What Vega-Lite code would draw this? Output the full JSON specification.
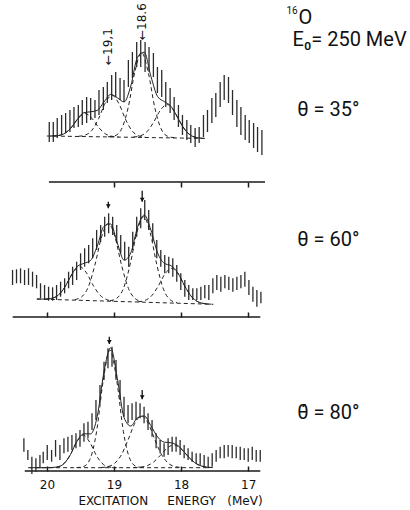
{
"$schema": "https://vega.github.io/schema/vega-lite/v6.json",
"background": "white",
"padding": {"left": 10, "top": 0, "right": 0, "bottom": 0},
"config": {"view": {"stroke": null}, "axis": {"grid": false, "domain": false}},
"spacing": 0,
"bounds": "flush",
"datasets": {"d": [
{"p":1,"k":"bar","E":19.965,"v":40,"v2":60},{"p":1,"k":"bar","E":19.905,"v":40,"v2":60},{"p":1,"k":"bar","E":19.846,"v":44,"v2":64},{"p":1,"k":"bar","E":19.781,"v":47,"v2":67},{"p":1,"k":"bar","E":19.721,"v":49,"v2":69},{"p":1,"k":"bar","E":19.657,"v":50,"v2":72},{"p":1,"k":"bar","E":19.597,"v":54,"v2":75},{"p":1,"k":"bar","E":19.532,"v":55,"v2":77},{"p":1,"k":"bar","E":19.473,"v":57,"v2":82},{"p":1,"k":"bar","E":19.408,"v":59,"v2":85},{"p":1,"k":"bar","E":19.348,"v":62,"v2":84},{"p":1,"k":"bar","E":19.284,"v":64,"v2":82},{"p":1,"k":"bar","E":19.224,"v":67,"v2":92},{"p":1,"k":"bar","E":19.159,"v":72,"v2":95},{"p":1,"k":"bar","E":19.100,"v":79,"v2":100},{"p":1,"k":"bar","E":19.035,"v":82,"v2":107},{"p":1,"k":"bar","E":18.975,"v":85,"v2":110},{"p":1,"k":"bar","E":18.910,"v":82,"v2":104},{"p":1,"k":"bar","E":18.851,"v":80,"v2":102},{"p":1,"k":"bar","E":18.786,"v":95,"v2":122},{"p":1,"k":"bar","E":18.726,"v":104,"v2":130},{"p":1,"k":"bar","E":18.662,"v":115,"v2":140},{"p":1,"k":"bar","E":18.602,"v":115,"v2":142},{"p":1,"k":"bar","E":18.537,"v":110,"v2":140},{"p":1,"k":"bar","E":18.478,"v":110,"v2":135},{"p":1,"k":"bar","E":18.413,"v":105,"v2":129},{"p":1,"k":"bar","E":18.353,"v":89,"v2":115},{"p":1,"k":"bar","E":18.289,"v":85,"v2":112},{"p":1,"k":"bar","E":18.229,"v":75,"v2":100},{"p":1,"k":"bar","E":18.164,"v":69,"v2":94},{"p":1,"k":"bar","E":18.104,"v":62,"v2":85},{"p":1,"k":"bar","E":18.040,"v":55,"v2":77},{"p":1,"k":"bar","E":17.980,"v":47,"v2":67},{"p":1,"k":"bar","E":17.915,"v":42,"v2":62},{"p":1,"k":"bar","E":17.856,"v":39,"v2":57},{"p":1,"k":"bar","E":17.791,"v":35,"v2":54},{"p":1,"k":"bar","E":17.731,"v":39,"v2":55},{"p":1,"k":"bar","E":17.667,"v":45,"v2":67},{"p":1,"k":"bar","E":17.607,"v":50,"v2":72},{"p":1,"k":"bar","E":17.542,"v":59,"v2":84},{"p":1,"k":"bar","E":17.483,"v":65,"v2":89},{"p":1,"k":"bar","E":17.418,"v":75,"v2":100},{"p":1,"k":"bar","E":17.358,"v":82,"v2":107},{"p":1,"k":"bar","E":17.294,"v":79,"v2":105},{"p":1,"k":"bar","E":17.234,"v":67,"v2":92},{"p":1,"k":"bar","E":17.169,"v":55,"v2":82},{"p":1,"k":"bar","E":17.109,"v":47,"v2":75},{"p":1,"k":"bar","E":17.045,"v":42,"v2":67},{"p":1,"k":"bar","E":16.985,"v":39,"v2":62},{"p":1,"k":"bar","E":16.920,"v":34,"v2":59},{"p":1,"k":"bar","E":16.861,"v":30,"v2":55},{"p":1,"k":"bar","E":16.796,"v":27,"v2":52},
{"p":1,"k":"fit","s":"base","E":20.0,"v":46.0},{"p":1,"k":"fit","s":"base","E":17.65,"v":43.6},
{"p":1,"k":"fit","s":"c1","E":19.93,"v":46.0},{"p":1,"k":"fit","s":"c1","E":19.83,"v":46.5},{"p":1,"k":"fit","s":"c1","E":19.73,"v":48.8},{"p":1,"k":"fit","s":"c1","E":19.63,"v":55.1},{"p":1,"k":"fit","s":"c1","E":19.53,"v":63.9},{"p":1,"k":"fit","s":"c1","E":19.43,"v":68.4},{"p":1,"k":"fit","s":"c1","E":19.33,"v":63.7},{"p":1,"k":"fit","s":"c1","E":19.23,"v":54.7},{"p":1,"k":"fit","s":"c1","E":19.13,"v":48.2},{"p":1,"k":"fit","s":"c1","E":19.03,"v":45.7},{"p":1,"k":"fit","s":"c1","E":18.93,"v":45.0},
{"p":1,"k":"fit","s":"c2","E":19.53,"v":45.7},{"p":1,"k":"fit","s":"c2","E":19.43,"v":46.9},{"p":1,"k":"fit","s":"c2","E":19.33,"v":51.7},{"p":1,"k":"fit","s":"c2","E":19.23,"v":63.3},{"p":1,"k":"fit","s":"c2","E":19.13,"v":79.0},{"p":1,"k":"fit","s":"c2","E":19.03,"v":86.7},{"p":1,"k":"fit","s":"c2","E":18.93,"v":78.8},{"p":1,"k":"fit","s":"c2","E":18.83,"v":62.9},{"p":1,"k":"fit","s":"c2","E":18.73,"v":51.1},{"p":1,"k":"fit","s":"c2","E":18.63,"v":46.1},{"p":1,"k":"fit","s":"c2","E":18.53,"v":44.7},
{"p":1,"k":"fit","s":"c3","E":19.09,"v":45.2},{"p":1,"k":"fit","s":"c3","E":18.99,"v":46.2},{"p":1,"k":"fit","s":"c3","E":18.89,"v":52.6},{"p":1,"k":"fit","s":"c3","E":18.79,"v":74.1},{"p":1,"k":"fit","s":"c3","E":18.69,"v":109.8},{"p":1,"k":"fit","s":"c3","E":18.59,"v":129.6},{"p":1,"k":"fit","s":"c3","E":18.49,"v":109.6},{"p":1,"k":"fit","s":"c3","E":18.39,"v":73.7},{"p":1,"k":"fit","s":"c3","E":18.29,"v":52.0},{"p":1,"k":"fit","s":"c3","E":18.19,"v":45.4},{"p":1,"k":"fit","s":"c3","E":18.09,"v":44.2},
{"p":1,"k":"fit","s":"c4","E":18.71,"v":45.0},{"p":1,"k":"fit","s":"c4","E":18.61,"v":46.1},{"p":1,"k":"fit","s":"c4","E":18.51,"v":50.2},{"p":1,"k":"fit","s":"c4","E":18.41,"v":59.7},{"p":1,"k":"fit","s":"c4","E":18.31,"v":71.7},{"p":1,"k":"fit","s":"c4","E":18.21,"v":77.5},{"p":1,"k":"fit","s":"c4","E":18.11,"v":71.5},{"p":1,"k":"fit","s":"c4","E":18.01,"v":59.3},{"p":1,"k":"fit","s":"c4","E":17.91,"v":49.6},{"p":1,"k":"fit","s":"c4","E":17.81,"v":45.3},{"p":1,"k":"fit","s":"c4","E":17.71,"v":44.0},
{"p":1,"k":"sum","E":19.95,"v":46.0},{"p":1,"k":"sum","E":19.85,"v":46.3},{"p":1,"k":"sum","E":19.75,"v":48.1},{"p":1,"k":"sum","E":19.65,"v":53.4},{"p":1,"k":"sum","E":19.55,"v":62.4},{"p":1,"k":"sum","E":19.45,"v":69.3},{"p":1,"k":"sum","E":19.35,"v":70.2},{"p":1,"k":"sum","E":19.25,"v":71.6},{"p":1,"k":"sum","E":19.15,"v":80.0},{"p":1,"k":"sum","E":19.05,"v":87.6},{"p":1,"k":"sum","E":18.95,"v":84.2},{"p":1,"k":"sum","E":18.85,"v":80.1},{"p":1,"k":"sum","E":18.75,"v":96.0},{"p":1,"k":"sum","E":18.65,"v":124.7},{"p":1,"k":"sum","E":18.55,"v":129.8},{"p":1,"k":"sum","E":18.45,"v":105.6},{"p":1,"k":"sum","E":18.35,"v":85.4},{"p":1,"k":"sum","E":18.25,"v":80.4},{"p":1,"k":"sum","E":18.15,"v":75.6},{"p":1,"k":"sum","E":18.05,"v":64.2},{"p":1,"k":"sum","E":17.95,"v":52.8},{"p":1,"k":"sum","E":17.85,"v":46.4},{"p":1,"k":"sum","E":17.75,"v":44.2},{"p":1,"k":"sum","E":17.65,"v":43.6},
{"p":1,"k":"axis","E":19.97,"E2":16.75,"v":0},
{"p":1,"k":"rot","E":19.09,"v":117,"t":"←19,1"},{"p":1,"k":"rot","E":18.59,"v":142,"t":"←18.6"},
{"p":1,"k":"sup","E":16.43,"v":171,"t":"16"},{"p":1,"k":"lab","E":16.25,"v":164,"t":"O"},{"p":1,"k":"lab","E":16.34,"v":142,"t":"E₀= 250 MeV"},{"p":1,"k":"lab","E":16.27,"v":72,"t":"θ = 35°"},
{"p":2,"k":"bar","E":20.512,"v":32,"v2":47},{"p":2,"k":"bar","E":20.453,"v":33.7,"v2":47.7},{"p":2,"k":"bar","E":20.393,"v":33.7,"v2":48.7},{"p":2,"k":"bar","E":20.333,"v":32,"v2":47},{"p":2,"k":"bar","E":20.274,"v":32,"v2":48.7},{"p":2,"k":"bar","E":20.214,"v":30.3,"v2":45.3},{"p":2,"k":"bar","E":20.154,"v":28.7,"v2":42},{"p":2,"k":"bar","E":20.095,"v":18.7,"v2":33.7},{"p":2,"k":"bar","E":20.035,"v":17,"v2":32},{"p":2,"k":"bar","E":19.975,"v":16.3,"v2":30.3},{"p":2,"k":"bar","E":19.915,"v":16.3,"v2":29.7},{"p":2,"k":"bar","E":19.856,"v":17,"v2":32},{"p":2,"k":"bar","E":19.796,"v":20.3,"v2":35.3},{"p":2,"k":"bar","E":19.736,"v":23.7,"v2":38.7},{"p":2,"k":"bar","E":19.677,"v":28.7,"v2":45.3},{"p":2,"k":"bar","E":19.617,"v":32,"v2":50.3},{"p":2,"k":"bar","E":19.557,"v":37,"v2":55.3},{"p":2,"k":"bar","E":19.498,"v":47,"v2":63.7},{"p":2,"k":"bar","E":19.438,"v":50.3,"v2":68.7},{"p":2,"k":"bar","E":19.378,"v":53.7,"v2":72},{"p":2,"k":"bar","E":19.318,"v":58.7,"v2":78.7},{"p":2,"k":"bar","E":19.259,"v":67,"v2":87},{"p":2,"k":"bar","E":19.199,"v":75.3,"v2":92},{"p":2,"k":"bar","E":19.139,"v":80.3,"v2":100.3},{"p":2,"k":"bar","E":19.080,"v":83.7,"v2":103.7},{"p":2,"k":"bar","E":19.020,"v":82,"v2":100.3},{"p":2,"k":"bar","E":18.960,"v":73.7,"v2":92},{"p":2,"k":"bar","E":18.900,"v":63.7,"v2":82},{"p":2,"k":"bar","E":18.841,"v":57,"v2":75.3},{"p":2,"k":"bar","E":18.781,"v":50.3,"v2":70.3},{"p":2,"k":"bar","E":18.721,"v":67,"v2":85.3},{"p":2,"k":"bar","E":18.662,"v":80.3,"v2":100.3},{"p":2,"k":"bar","E":18.602,"v":88.7,"v2":108.7},{"p":2,"k":"bar","E":18.542,"v":97,"v2":117},{"p":2,"k":"bar","E":18.483,"v":87,"v2":107},{"p":2,"k":"bar","E":18.423,"v":75.3,"v2":93.7},{"p":2,"k":"bar","E":18.363,"v":58.7,"v2":77},{"p":2,"k":"bar","E":18.303,"v":50.3,"v2":67},{"p":2,"k":"bar","E":18.244,"v":43.7,"v2":62},{"p":2,"k":"bar","E":18.184,"v":43.7,"v2":60.3},{"p":2,"k":"bar","E":18.124,"v":40.3,"v2":58.7},{"p":2,"k":"bar","E":18.065,"v":35.3,"v2":52},{"p":2,"k":"bar","E":18.005,"v":27,"v2":43.7},{"p":2,"k":"bar","E":17.945,"v":20.3,"v2":37},{"p":2,"k":"bar","E":17.886,"v":17,"v2":32},{"p":2,"k":"bar","E":17.826,"v":17,"v2":28.7},{"p":2,"k":"bar","E":17.766,"v":17,"v2":28.7},{"p":2,"k":"bar","E":17.706,"v":17,"v2":30.3},{"p":2,"k":"bar","E":17.647,"v":18.7,"v2":32},{"p":2,"k":"bar","E":17.587,"v":17,"v2":32},{"p":2,"k":"bar","E":17.527,"v":23.7,"v2":38.7},{"p":2,"k":"bar","E":17.468,"v":27,"v2":42},{"p":2,"k":"bar","E":17.408,"v":25.3,"v2":40.3},{"p":2,"k":"bar","E":17.348,"v":28.7,"v2":42},{"p":2,"k":"bar","E":17.289,"v":27,"v2":40.3},{"p":2,"k":"bar","E":17.229,"v":25.3,"v2":38.7},{"p":2,"k":"bar","E":17.169,"v":27,"v2":40.3},{"p":2,"k":"bar","E":17.109,"v":28.7,"v2":42},{"p":2,"k":"bar","E":17.050,"v":30.3,"v2":45.3},{"p":2,"k":"bar","E":16.990,"v":22,"v2":37},{"p":2,"k":"bar","E":16.930,"v":15.3,"v2":30.3},{"p":2,"k":"bar","E":16.871,"v":10.3,"v2":27},{"p":2,"k":"bar","E":16.811,"v":13.7,"v2":25.3},
{"p":2,"k":"fit","s":"base","E":20.15,"v":18.0},{"p":2,"k":"fit","s":"base","E":17.52,"v":12.7},
{"p":2,"k":"fit","s":"c1","E":20.01,"v":17.95},{"p":2,"k":"fit","s":"c1","E":19.91,"v":19.0},{"p":2,"k":"fit","s":"c1","E":19.81,"v":23.1},{"p":2,"k":"fit","s":"c1","E":19.71,"v":32.4},{"p":2,"k":"fit","s":"c1","E":19.61,"v":44.5},{"p":2,"k":"fit","s":"c1","E":19.51,"v":50.2},{"p":2,"k":"fit","s":"c1","E":19.41,"v":44.1},{"p":2,"k":"fit","s":"c1","E":19.31,"v":31.6},{"p":2,"k":"fit","s":"c1","E":19.21,"v":21.9},{"p":2,"k":"fit","s":"c1","E":19.11,"v":17.4},{"p":2,"k":"fit","s":"c1","E":19.01,"v":15.95},
{"p":2,"k":"fit","s":"c2","E":19.585,"v":17.4},{"p":2,"k":"fit","s":"c2","E":19.485,"v":20.0},{"p":2,"k":"fit","s":"c2","E":19.385,"v":29.8},{"p":2,"k":"fit","s":"c2","E":19.285,"v":51.9},{"p":2,"k":"fit","s":"c2","E":19.185,"v":80.2},{"p":2,"k":"fit","s":"c2","E":19.085,"v":93.8},{"p":2,"k":"fit","s":"c2","E":18.985,"v":79.8},{"p":2,"k":"fit","s":"c2","E":18.885,"v":51.1},{"p":2,"k":"fit","s":"c2","E":18.785,"v":28.6},{"p":2,"k":"fit","s":"c2","E":18.685,"v":18.4},{"p":2,"k":"fit","s":"c2","E":18.585,"v":15.4},
{"p":2,"k":"fit","s":"c3","E":19.06,"v":16.3},{"p":2,"k":"fit","s":"c3","E":18.96,"v":18.7},{"p":2,"k":"fit","s":"c3","E":18.86,"v":28.5},{"p":2,"k":"fit","s":"c3","E":18.76,"v":52.4},{"p":2,"k":"fit","s":"c3","E":18.66,"v":84.4},{"p":2,"k":"fit","s":"c3","E":18.56,"v":100.3},{"p":2,"k":"fit","s":"c3","E":18.46,"v":84.0},{"p":2,"k":"fit","s":"c3","E":18.36,"v":51.6},{"p":2,"k":"fit","s":"c3","E":18.26,"v":27.3},{"p":2,"k":"fit","s":"c3","E":18.16,"v":17.1},{"p":2,"k":"fit","s":"c3","E":18.06,"v":14.3},
{"p":2,"k":"fit","s":"c4","E":18.64,"v":15.25},{"p":2,"k":"fit","s":"c4","E":18.54,"v":16.5},{"p":2,"k":"fit","s":"c4","E":18.44,"v":21.2},{"p":2,"k":"fit","s":"c4","E":18.34,"v":31.0},{"p":2,"k":"fit","s":"c4","E":18.24,"v":43.1},{"p":2,"k":"fit","s":"c4","E":18.14,"v":48.7},{"p":2,"k":"fit","s":"c4","E":18.04,"v":42.7},{"p":2,"k":"fit","s":"c4","E":17.94,"v":30.2},{"p":2,"k":"fit","s":"c4","E":17.84,"v":20.0},{"p":2,"k":"fit","s":"c4","E":17.74,"v":14.9},{"p":2,"k":"fit","s":"c4","E":17.64,"v":13.25},
{"p":2,"k":"sum","E":20.15,"v":18.0},{"p":2,"k":"sum","E":20.05,"v":17.9},{"p":2,"k":"sum","E":19.95,"v":18.4},{"p":2,"k":"sum","E":19.85,"v":20.9},{"p":2,"k":"sum","E":19.75,"v":28.1},{"p":2,"k":"sum","E":19.65,"v":40.0},{"p":2,"k":"sum","E":19.55,"v":50.4},{"p":2,"k":"sum","E":19.45,"v":53.6},{"p":2,"k":"sum","E":19.35,"v":56.5},{"p":2,"k":"sum","E":19.25,"v":70.9},{"p":2,"k":"sum","E":19.15,"v":90.6},{"p":2,"k":"sum","E":19.05,"v":93.0},{"p":2,"k":"sum","E":18.95,"v":73.9},{"p":2,"k":"sum","E":18.85,"v":56.8},{"p":2,"k":"sum","E":18.75,"v":64.2},{"p":2,"k":"sum","E":18.65,"v":89.5},{"p":2,"k":"sum","E":18.55,"v":102.0},{"p":2,"k":"sum","E":18.45,"v":87.0},{"p":2,"k":"sum","E":18.35,"v":64.1},{"p":2,"k":"sum","E":18.25,"v":53.7},{"p":2,"k":"sum","E":18.15,"v":51.3},{"p":2,"k":"sum","E":18.05,"v":44.2},{"p":2,"k":"sum","E":17.95,"v":31.5},{"p":2,"k":"sum","E":17.85,"v":20.8},{"p":2,"k":"sum","E":17.75,"v":15.3},{"p":2,"k":"sum","E":17.65,"v":13.4},{"p":2,"k":"sum","E":17.55,"v":12.8},
{"p":2,"k":"axis","E":20.51,"E2":16.82,"v":0},
{"p":2,"k":"arrow","E":19.085,"v":108.7,"v2":115.3},{"p":2,"k":"arrow","E":18.58,"v":115.3,"v2":126.3},
{"p":2,"k":"lab","E":16.27,"v":77,"t":"θ = 60°"},
{"p":3,"k":"bar","E":20.343,"v":19.3,"v2":32.7},{"p":3,"k":"bar","E":20.284,"v":11,"v2":21},{"p":3,"k":"bar","E":20.224,"v":-3,"v2":14.3},{"p":3,"k":"bar","E":20.164,"v":-0.7,"v2":12.7},{"p":3,"k":"bar","E":20.104,"v":2.7,"v2":16},{"p":3,"k":"bar","E":20.055,"v":7.7,"v2":19.3},{"p":3,"k":"bar","E":19.995,"v":11,"v2":26},{"p":3,"k":"bar","E":19.930,"v":9.3,"v2":21},{"p":3,"k":"bar","E":19.871,"v":14.3,"v2":31},{"p":3,"k":"bar","E":19.806,"v":11,"v2":26},{"p":3,"k":"bar","E":19.746,"v":17.7,"v2":32.7},{"p":3,"k":"bar","E":19.687,"v":19.3,"v2":34.3},{"p":3,"k":"bar","E":19.627,"v":21,"v2":36},{"p":3,"k":"bar","E":19.567,"v":22.7,"v2":37.7},{"p":3,"k":"bar","E":19.507,"v":24.3,"v2":41},{"p":3,"k":"bar","E":19.448,"v":29.3,"v2":47.7},{"p":3,"k":"bar","E":19.388,"v":32.7,"v2":49.3},{"p":3,"k":"bar","E":19.328,"v":41,"v2":57.7},{"p":3,"k":"bar","E":19.269,"v":51,"v2":71},{"p":3,"k":"bar","E":19.209,"v":67.7,"v2":86},{"p":3,"k":"bar","E":19.149,"v":91,"v2":109.3},{"p":3,"k":"bar","E":19.090,"v":102.7,"v2":122.7},{"p":3,"k":"bar","E":19.030,"v":104.3,"v2":124.3},{"p":3,"k":"bar","E":18.970,"v":91,"v2":111},{"p":3,"k":"bar","E":18.910,"v":71,"v2":91},{"p":3,"k":"bar","E":18.851,"v":54.3,"v2":74.3},{"p":3,"k":"bar","E":18.791,"v":47.7,"v2":66},{"p":3,"k":"bar","E":18.731,"v":51,"v2":67.7},{"p":3,"k":"bar","E":18.672,"v":51,"v2":69.3},{"p":3,"k":"bar","E":18.612,"v":52.7,"v2":67.7},{"p":3,"k":"bar","E":18.552,"v":47.7,"v2":64.3},{"p":3,"k":"bar","E":18.493,"v":41,"v2":57.7},{"p":3,"k":"bar","E":18.433,"v":34.3,"v2":51},{"p":3,"k":"bar","E":18.373,"v":22.7,"v2":37.7},{"p":3,"k":"bar","E":18.313,"v":17.7,"v2":31},{"p":3,"k":"bar","E":18.254,"v":14.3,"v2":27.7},{"p":3,"k":"bar","E":18.194,"v":16,"v2":32.7},{"p":3,"k":"bar","E":18.134,"v":19.3,"v2":34.3},{"p":3,"k":"bar","E":18.075,"v":19.3,"v2":34.3},{"p":3,"k":"bar","E":18.015,"v":16,"v2":31},{"p":3,"k":"bar","E":17.955,"v":12.7,"v2":26},{"p":3,"k":"bar","E":17.896,"v":11,"v2":22.7},{"p":3,"k":"bar","E":17.836,"v":9.3,"v2":19.3},{"p":3,"k":"bar","E":17.776,"v":7.7,"v2":17.7},{"p":3,"k":"bar","E":17.716,"v":6,"v2":17.7},{"p":3,"k":"bar","E":17.657,"v":4.3,"v2":16},{"p":3,"k":"bar","E":17.597,"v":2.7,"v2":14.3},{"p":3,"k":"bar","E":17.537,"v":4.3,"v2":17.7},{"p":3,"k":"bar","E":17.478,"v":9.3,"v2":21},{"p":3,"k":"bar","E":17.418,"v":12.7,"v2":24.3},{"p":3,"k":"bar","E":17.358,"v":12.7,"v2":26},{"p":3,"k":"bar","E":17.299,"v":14.3,"v2":26},{"p":3,"k":"bar","E":17.239,"v":12.7,"v2":26},{"p":3,"k":"bar","E":17.179,"v":12.7,"v2":24.3},{"p":3,"k":"bar","E":17.119,"v":11,"v2":24.3},{"p":3,"k":"bar","E":17.060,"v":11,"v2":22.7},{"p":3,"k":"bar","E":17.000,"v":9.3,"v2":22.7},{"p":3,"k":"bar","E":16.940,"v":11,"v2":24.3},{"p":3,"k":"bar","E":16.881,"v":9.3,"v2":21},{"p":3,"k":"bar","E":16.821,"v":9.3,"v2":21},
{"p":3,"k":"fit","s":"base","E":20.28,"v":3.3},{"p":3,"k":"fit","s":"base","E":17.6,"v":3.3},
{"p":3,"k":"fit","s":"c1","E":19.96,"v":3.4},{"p":3,"k":"fit","s":"c1","E":19.86,"v":3.85},{"p":3,"k":"fit","s":"c1","E":19.76,"v":6.6},{"p":3,"k":"fit","s":"c1","E":19.66,"v":15.1},{"p":3,"k":"fit","s":"c1","E":19.56,"v":28.6},{"p":3,"k":"fit","s":"c1","E":19.46,"v":36.0},{"p":3,"k":"fit","s":"c1","E":19.36,"v":28.6},{"p":3,"k":"fit","s":"c1","E":19.26,"v":15.1},{"p":3,"k":"fit","s":"c1","E":19.16,"v":6.6},{"p":3,"k":"fit","s":"c1","E":19.06,"v":3.85},{"p":3,"k":"fit","s":"c1","E":18.96,"v":3.4},
{"p":3,"k":"fit","s":"c2","E":19.56,"v":3.4},{"p":3,"k":"fit","s":"c2","E":19.46,"v":4.3},{"p":3,"k":"fit","s":"c2","E":19.36,"v":11.5},{"p":3,"k":"fit","s":"c2","E":19.26,"v":39.3},{"p":3,"k":"fit","s":"c2","E":19.16,"v":90.9},{"p":3,"k":"fit","s":"c2","E":19.06,"v":121.0},{"p":3,"k":"fit","s":"c2","E":18.96,"v":90.9},{"p":3,"k":"fit","s":"c2","E":18.86,"v":39.3},{"p":3,"k":"fit","s":"c2","E":18.76,"v":11.5},{"p":3,"k":"fit","s":"c2","E":18.66,"v":4.3},{"p":3,"k":"fit","s":"c2","E":18.56,"v":3.4},
{"p":3,"k":"fit","s":"c3","E":19.19,"v":3.5},{"p":3,"k":"fit","s":"c3","E":19.09,"v":4.4},{"p":3,"k":"fit","s":"c3","E":18.99,"v":7.7},{"p":3,"k":"fit","s":"c3","E":18.89,"v":16.2},{"p":3,"k":"fit","s":"c3","E":18.79,"v":31.2},{"p":3,"k":"fit","s":"c3","E":18.69,"v":47.6},{"p":3,"k":"fit","s":"c3","E":18.59,"v":55.0},{"p":3,"k":"fit","s":"c3","E":18.49,"v":47.6},{"p":3,"k":"fit","s":"c3","E":18.39,"v":31.2},{"p":3,"k":"fit","s":"c3","E":18.29,"v":16.2},{"p":3,"k":"fit","s":"c3","E":18.19,"v":7.7},{"p":3,"k":"fit","s":"c3","E":18.09,"v":4.4},{"p":3,"k":"fit","s":"c3","E":17.99,"v":3.5},
{"p":3,"k":"fit","s":"c4","E":18.71,"v":3.4},{"p":3,"k":"fit","s":"c4","E":18.61,"v":3.8},{"p":3,"k":"fit","s":"c4","E":18.51,"v":5.2},{"p":3,"k":"fit","s":"c4","E":18.41,"v":9.0},{"p":3,"k":"fit","s":"c4","E":18.31,"v":15.6},{"p":3,"k":"fit","s":"c4","E":18.21,"v":22.8},{"p":3,"k":"fit","s":"c4","E":18.11,"v":26.1},{"p":3,"k":"fit","s":"c4","E":18.01,"v":22.8},{"p":3,"k":"fit","s":"c4","E":17.91,"v":15.6},{"p":3,"k":"fit","s":"c4","E":17.81,"v":9.0},{"p":3,"k":"fit","s":"c4","E":17.71,"v":5.2},{"p":3,"k":"fit","s":"c4","E":17.61,"v":3.8},{"p":3,"k":"fit","s":"c4","E":17.51,"v":3.4},
{"p":3,"k":"sum","E":20.25,"v":3.3},{"p":3,"k":"sum","E":20.15,"v":3.3},{"p":3,"k":"sum","E":20.05,"v":3.3},{"p":3,"k":"sum","E":19.95,"v":3.4},{"p":3,"k":"sum","E":19.85,"v":4.0},{"p":3,"k":"sum","E":19.75,"v":7.1},{"p":3,"k":"sum","E":19.65,"v":16.3},{"p":3,"k":"sum","E":19.55,"v":30.0},{"p":3,"k":"sum","E":19.45,"v":37.2},{"p":3,"k":"sum","E":19.35,"v":37.1},{"p":3,"k":"sum","E":19.25,"v":54.5},{"p":3,"k":"sum","E":19.15,"v":99.1},{"p":3,"k":"sum","E":19.05,"v":123.2},{"p":3,"k":"sum","E":18.95,"v":92.6},{"p":3,"k":"sum","E":18.85,"v":53.4},{"p":3,"k":"sum","E":18.75,"v":45.0},{"p":3,"k":"sum","E":18.65,"v":53.3},{"p":3,"k":"sum","E":18.55,"v":55.0},{"p":3,"k":"sum","E":18.45,"v":45.3},{"p":3,"k":"sum","E":18.35,"v":34.0},{"p":3,"k":"sum","E":18.25,"v":28.8},{"p":3,"k":"sum","E":18.15,"v":28.2},{"p":3,"k":"sum","E":18.05,"v":25.5},{"p":3,"k":"sum","E":17.95,"v":18.7},{"p":3,"k":"sum","E":17.85,"v":11.3},{"p":3,"k":"sum","E":17.75,"v":6.4},{"p":3,"k":"sum","E":17.65,"v":4.2},{"p":3,"k":"sum","E":17.55,"v":3.5},
{"p":3,"k":"axis","E":20.33,"E2":16.82,"v":0},
{"p":3,"k":"arrow","E":19.07,"v":127,"v2":134.3},{"p":3,"k":"arrow","E":18.58,"v":71.7,"v2":81},
{"p":3,"k":"lab","E":16.27,"v":58,"t":"θ́ = 80°"}
]},
"data": {"name": "d"},
"vconcat": [
{
"width": 255, "height": 182,
"encoding": {
"x": {"field": "E", "type": "quantitative", "scale": {"domain": [20.55, 16.75], "nice": false, "zero": false}, "axis": {"values": [19, 18, 17], "tickSize": 5, "tickWidth": 1.5, "tickColor": "#1a1a1a", "labels": false, "domain": false, "grid": false, "title": null}},
"y": {"field": "v", "type": "quantitative", "scale": {"domain": [0, 182], "nice": false, "zero": false}, "axis": null}
},
"layer": [
{"transform": [{"filter": "datum.p==1 && datum.k=='axis'"}], "mark": {"type": "rule", "strokeWidth": 1.6, "color": "#1a1a1a"}, "encoding": {"x2": {"field": "E2"}}},
{"transform": [{"filter": "datum.p==1 && datum.k=='bar'"}], "mark": {"type": "rule", "strokeWidth": 1.3, "color": "#2b2b2b"}, "encoding": {"y2": {"field": "v2"}}},
{"transform": [{"filter": "datum.p==1 && datum.k=='fit'"}], "mark": {"type": "line", "strokeWidth": 1, "strokeDash": [4, 3], "color": "#222", "interpolate": "monotone"}, "encoding": {"detail": {"field": "s"}}},
{"transform": [{"filter": "datum.p==1 && datum.k=='sum'"}], "mark": {"type": "line", "strokeWidth": 1, "color": "#222", "interpolate": "monotone"}, "encoding": {}},
{"transform": [{"filter": "datum.p==1 && datum.k=='rot'"}], "mark": {"type": "text", "angle": 270, "align": "left", "baseline": "middle", "font": "DejaVu Sans", "fontSize": 12, "color": "#111"}, "encoding": {"text": {"field": "t"}}},
{"transform": [{"filter": "datum.p==1 && datum.k=='lab'"}], "mark": {"type": "text", "align": "left", "baseline": "middle", "font": "Roboto", "fontSize": 20, "color": "#111"}, "encoding": {"text": {"field": "t"}}},
{"transform": [{"filter": "datum.p==1 && datum.k=='sup'"}], "mark": {"type": "text", "align": "left", "baseline": "middle", "font": "Roboto", "fontSize": 10, "color": "#111"}, "encoding": {"text": {"field": "t"}}}
]
},
{
"width": 255, "height": 135,
"encoding": {
"x": {"field": "E", "type": "quantitative", "scale": {"domain": [20.55, 16.75], "nice": false, "zero": false}, "axis": {"values": [20, 19, 18, 17], "tickSize": -5, "tickWidth": 1.5, "tickColor": "#1a1a1a", "labels": false, "domain": false, "grid": false, "title": null}},
"y": {"field": "v", "type": "quantitative", "scale": {"domain": [0, 135], "nice": false, "zero": false}, "axis": null}
},
"layer": [
{"transform": [{"filter": "datum.p==2 && datum.k=='axis'"}], "mark": {"type": "rule", "strokeWidth": 1.6, "color": "#1a1a1a"}, "encoding": {"x2": {"field": "E2"}}},
{"transform": [{"filter": "datum.p==2 && datum.k=='bar'"}], "mark": {"type": "rule", "strokeWidth": 1.3, "color": "#2b2b2b"}, "encoding": {"y2": {"field": "v2"}}},
{"transform": [{"filter": "datum.p==2 && datum.k=='fit'"}], "mark": {"type": "line", "strokeWidth": 1, "strokeDash": [4, 3], "color": "#222", "interpolate": "monotone"}, "encoding": {"detail": {"field": "s"}}},
{"transform": [{"filter": "datum.p==2 && datum.k=='sum'"}], "mark": {"type": "line", "strokeWidth": 1, "color": "#222", "interpolate": "monotone"}, "encoding": {}},
{"transform": [{"filter": "datum.p==2 && datum.k=='arrow'"}], "mark": {"type": "rule", "strokeWidth": 1.3, "color": "#111"}, "encoding": {"y2": {"field": "v2"}}},
{"transform": [{"filter": "datum.p==2 && datum.k=='arrow'"}], "mark": {"type": "point", "shape": "triangle-down", "filled": true, "size": 22, "opacity": 1, "color": "#111", "yOffset": -2}, "encoding": {}},
{"transform": [{"filter": "datum.p==2 && datum.k=='lab'"}], "mark": {"type": "text", "align": "left", "baseline": "middle", "font": "Roboto", "fontSize": 20, "color": "#111"}, "encoding": {"text": {"field": "t"}}}
]
},
{
"width": 255, "height": 154,
"encoding": {
"x": {"field": "E", "type": "quantitative", "scale": {"domain": [20.55, 16.75], "nice": false, "zero": false}, "axis": {"values": [20, 19, 18, 17], "tickSize": -5, "tickWidth": 1.5, "tickColor": "#1a1a1a", "labels": true, "labelFont": "DejaVu Sans", "labelFontSize": 12, "labelColor": "#111", "labelPadding": 13, "domain": false, "grid": false, "title": "EXCITATION\u00a0\u00a0\u00a0\u00a0\u00a0ENERGY\u00a0\u00a0\u00a0(MeV)", "titleFont": "DejaVu Sans", "titleFontSize": 12, "titleFontWeight": "normal", "titleColor": "#111", "titleX": 160, "titlePadding": 5}},
"y": {"field": "v", "type": "quantitative", "scale": {"domain": [0, 154], "nice": false, "zero": false}, "axis": null}
},
"layer": [
{"transform": [{"filter": "datum.p==3 && datum.k=='axis'"}], "mark": {"type": "rule", "strokeWidth": 1.6, "color": "#1a1a1a"}, "encoding": {"x2": {"field": "E2"}}},
{"transform": [{"filter": "datum.p==3 && datum.k=='bar'"}], "mark": {"type": "rule", "strokeWidth": 1.3, "color": "#2b2b2b"}, "encoding": {"y2": {"field": "v2"}}},
{"transform": [{"filter": "datum.p==3 && datum.k=='fit'"}], "mark": {"type": "line", "strokeWidth": 1, "strokeDash": [4, 3], "color": "#222", "interpolate": "monotone"}, "encoding": {"detail": {"field": "s"}}},
{"transform": [{"filter": "datum.p==3 && datum.k=='sum'"}], "mark": {"type": "line", "strokeWidth": 1, "color": "#222", "interpolate": "monotone"}, "encoding": {}},
{"transform": [{"filter": "datum.p==3 && datum.k=='arrow'"}], "mark": {"type": "rule", "strokeWidth": 1.3, "color": "#111"}, "encoding": {"y2": {"field": "v2"}}},
{"transform": [{"filter": "datum.p==3 && datum.k=='arrow'"}], "mark": {"type": "point", "shape": "triangle-down", "filled": true, "size": 22, "opacity": 1, "color": "#111", "yOffset": -2}, "encoding": {}},
{"transform": [{"filter": "datum.p==3 && datum.k=='lab'"}], "mark": {"type": "text", "align": "left", "baseline": "middle", "font": "Roboto", "fontSize": 20, "color": "#111"}, "encoding": {"text": {"field": "t"}}}
]
}
]
}
